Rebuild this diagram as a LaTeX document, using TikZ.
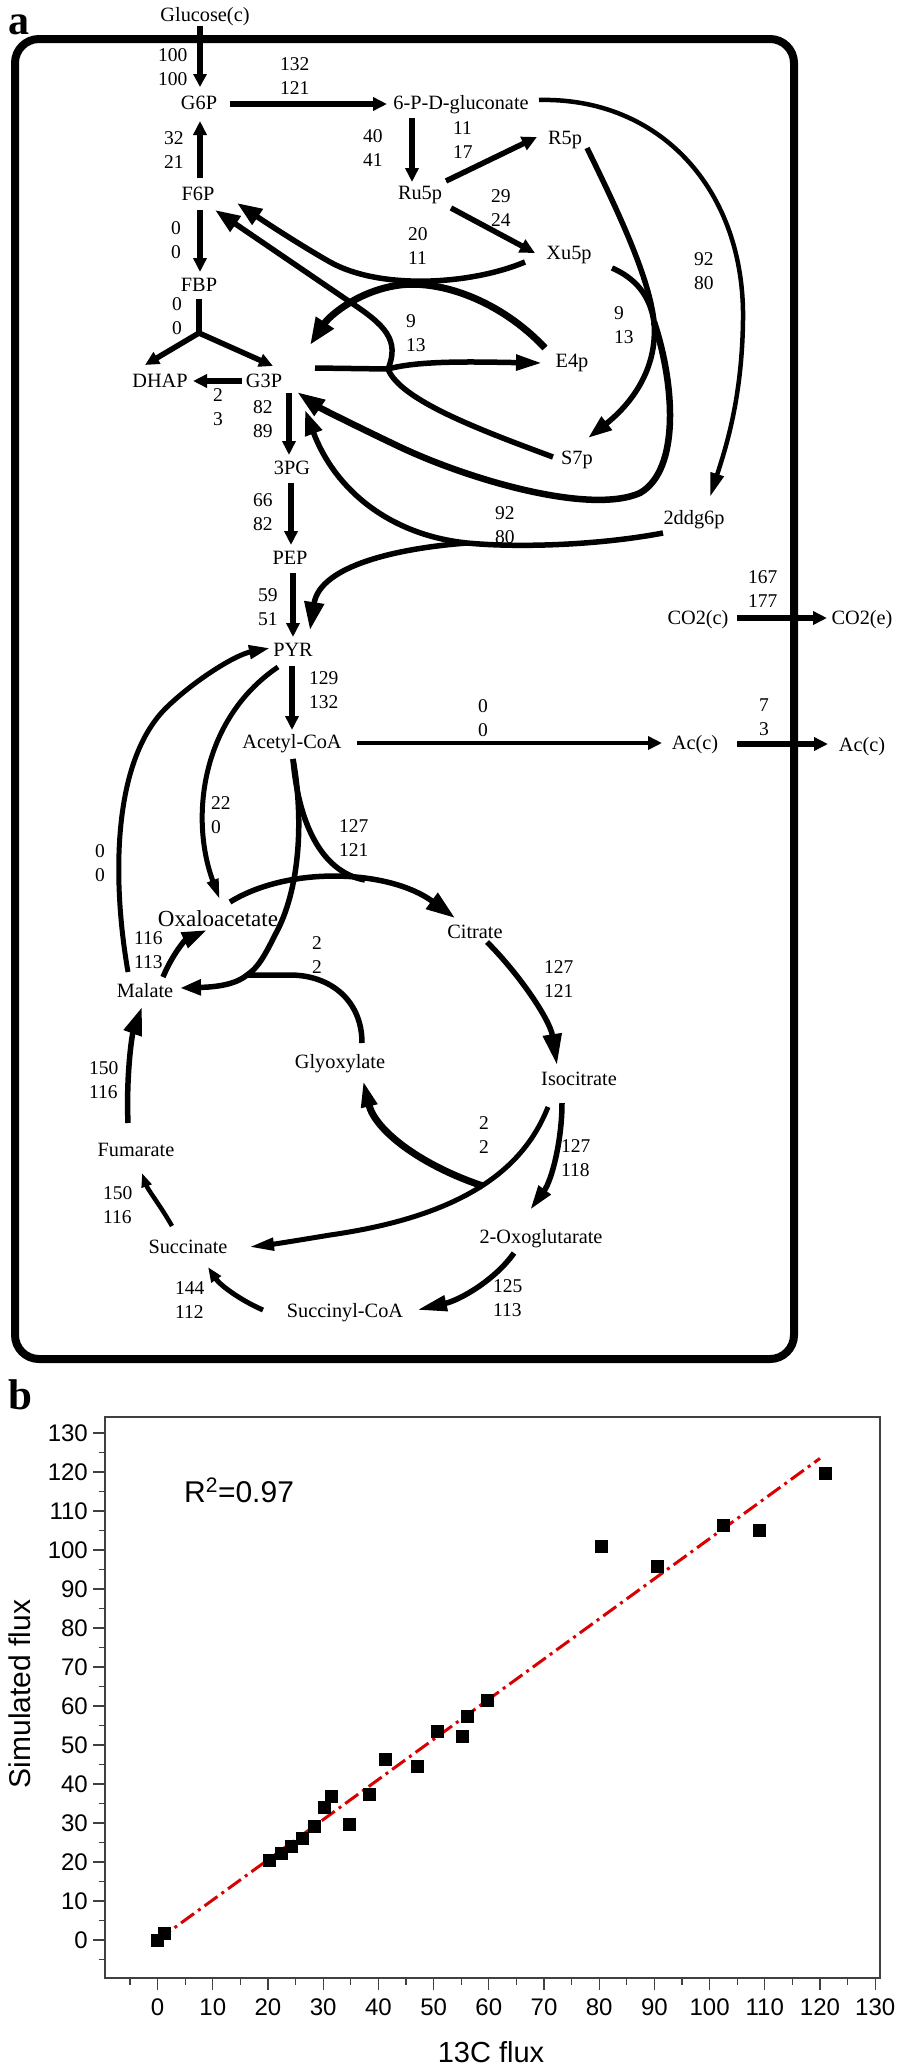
\documentclass[tikz,border=0pt]{standalone}
\usepackage{fontspec}
\setmainfont{Liberation Serif}
\newfontfamily\plotfont{Liberation Sans}
\usetikzlibrary{arrows.meta,calc}
\begin{document}
\begin{tikzpicture}[x=1pt,y=-1pt,
  met/.style={inner sep=0pt, font=\fontsize{20.3}{24}\selectfont, text height=13.5pt, text depth=0pt},
  num/.style={inner sep=0pt, anchor=west, align=left, font=\fontsize{19.5}{24}\selectfont},
  ln/.style={line width=5.5pt, draw=black},
  cv/.style={line width=5.5pt},
  thk/.style={line width=7pt},
  ah/.style 2 args={-{Triangle[length=#1pt,width=#2pt]}},
  axl/.style={inner sep=0pt, font=\plotfont\fontsize{24}{24}\selectfont},
  tick/.style={line width=1.3pt, draw=black!75},
]
\useasboundingbox (0,0) rectangle (898,2070);
\fill[white] (0,0) rectangle (898,2070);

% ---------------- panel a ----------------
\node[inner sep=0pt, anchor=base, font=\bfseries\fontsize{42}{42}\selectfont] (la) at (19,34) {a};
\node[draw, line width=8pt, rounded corners=24pt, minimum width=779pt, minimum height=1320pt, inner sep=0pt] (cell) at (404.5,699) {};

% metabolites
\node[met] (glc) at (205,15) {Glucose(c)};
\node[met] (g6p) at (199,103) {G6P};
\node[met] (pgl) at (461,103) {6-P-D-gluconate};
\node[met] (ru5p) at (420,193) {Ru5p};
\node[met] (r5p) at (565,138) {R5p};
\node[met] (xu5p) at (569,253) {Xu5p};
\node[met] (f6p) at (198,194) {F6P};
\node[met] (fbp) at (199,285) {FBP};
\node[met] (dhap) at (160,381) {DHAP};
\node[met] (g3p) at (264,381) {G3P};
\node[met] (e4p) at (572,361) {E4p};
\node[met] (s7p) at (577,458) {S7p};
\node[met] (ddg) at (694,518) {2ddg6p};
\node[met] (pg3) at (292,468) {3PG};
\node[met] (pep) at (290,558) {PEP};
\node[met] (pyr) at (293,650) {PYR};
\node[met] (acoa) at (292,742) {Acetyl-CoA};
\node[met] (acc) at (695,743) {Ac(c)};
\node[met] (ace) at (862,745) {Ac(c)};
\node[met] (co2c) at (698,618) {CO2(c)};
\node[met] (co2e) at (862,618) {CO2(e)};
\node[met, font=\fontsize{23}{24}\selectfont] (oaa) at (218,920) {Oxaloacetate};
\node[met] (mal) at (145,991) {Malate};
\node[met] (cit) at (475,932) {Citrate};
\node[met] (icit) at (579,1079) {Isocitrate};
\node[met] (glx) at (340,1062) {Glyoxylate};
\node[met] (fum) at (136,1150) {Fumarate};
\node[met] (succ) at (188,1247) {Succinate};
\node[met] (sca) at (345,1311) {Succinyl-CoA};
\node[met] (akg) at (541,1237) {2-Oxoglutarate};

% flux labels
\node[num] (n1) at (158,67) {100\\100};
\node[num] (n2) at (280,76) {132\\121};
\node[num] (n3) at (363,148) {40\\41};
\node[num] (n4) at (164,150) {32\\21};
\node[num] (n5) at (171,240) {0\\0};
\node[num] (n6) at (408,246) {20\\11};
\node[num] (n7) at (453,140) {11\\17};
\node[num] (n8) at (491,208) {29\\24};
\node[num] (n9) at (694,271) {92\\80};
\node[num] (n10) at (172,316) {0\\0};
\node[num] (n11) at (406,333) {9\\13};
\node[num] (n12) at (614,325) {9\\13};
\node[num] (n13) at (213,407) {2\\3};
\node[num] (n14) at (253,419) {82\\89};
\node[num] (n15) at (253,512) {66\\82};
\node[num] (n16) at (258,607) {59\\51};
\node[num] (n17) at (495,525) {92\\80};
\node[num] (n18) at (748,589) {167\\177};
\node[num] (n19) at (309,690) {129\\132};
\node[num] (n20) at (478,718) {0\\0};
\node[num] (n21) at (759,717) {7\\3};
\node[num] (n22) at (211,815) {22\\0};
\node[num] (n23) at (339,838) {127\\121};
\node[num] (n24) at (95,863) {0\\0};
\node[num] (n25) at (134,950) {116\\113};
\node[num] (n26) at (312,955) {2\\2};
\node[num] (n27) at (544,979) {127\\121};
\node[num] (n28) at (89,1080) {150\\116};
\node[num] (n29) at (479,1135) {2\\2};
\node[num] (n30) at (561,1158) {127\\118};
\node[num] (n31) at (103,1205) {150\\116};
\node[num] (n32) at (493,1298) {125\\113};
\node[num] (n33) at (175,1300) {144\\112};

% straight arrows
\draw[ln,ah={13}{13}] ($(glc)+(-5,11)$) -- ($(g6p)+(1,-16)$);
\draw[ln,ah={14}{13}] ($(g6p)+(31,1)$) -- ($(pgl)+(-74,1)$);
\draw[ln,ah={14}{13}] ($(pgl)+(-49,15)$) -- ($(ru5p)+(-8,-11)$);
\draw[ln,ah={14}{13}] ($(f6p)+(2,-16)$) -- ($(g6p)+(1,18)$);
\draw[ln,ah={14}{13}] ($(f6p)+(2,16)$) -- ($(fbp)+(1,-13)$);
\coordinate (jfbp) at ($(fbp)+(0,48)$);
\draw[ln] ($(fbp)+(0,14)$) -- (jfbp);
\draw[ln,line cap=round,ah={14}{13}] (jfbp) -- ($(dhap)+(-15,-16)$);
\draw[ln,line cap=round,ah={14}{13}] (jfbp) -- ($(g3p)+(9,-15)$);
\draw[ln,ah={14}{13}] ($(g3p)+(-22,0)$) -- ($(dhap)+(33,0)$);
\draw[ln,ah={14}{13}] ($(g3p)+(25,12)$) -- ($(pg3)+(-3,-13)$);
\draw[ln,ah={14}{13}] ($(pg3)+(-1,15)$) -- ($(pep)+(1,-13)$);
\draw[ln,ah={14}{13}] ($(pep)+(3,15)$) -- ($(pyr)+(0,-13)$);
\draw[ln,ah={14}{13}] ($(pyr)+(-1,16)$) -- ($(acoa)+(0,-12)$);
\draw[ln,line width=4.5pt,ah={14}{13}] ($(acoa)+(65,1)$) -- ($(acc)+(-33,0)$);
\draw[ln,ah={14}{13}] ($(acc)+(42,1)$) -- ($(ace)+(-34,-1)$);
\draw[ln,ah={14}{13}] ($(co2c)+(39,0)$) -- ($(co2e)+(-35,0)$);
\draw[ln,ah={15}{14}] ($(ru5p)+(26,-12)$) -- ($(r5p)+(-28,-1)$);
\draw[ln,ah={15}{14}] ($(ru5p)+(31,15)$) -- ($(xu5p)+(-34,0)$);

% 6-P-D-gluconate -> 2ddg6p
\draw[line width=4.5pt, ah={24}{13}] ($(pgl)+(78,-3)$) .. controls (660,97) and (745,190) .. (743,320) .. controls (742,400) and (725,450) .. ($(ddg)+(16,-21)$);

% transketolase 1 : R5p + Xu5p -> S7p + G3P
\coordinate (jtk) at (654,322);
\draw[cv] ($(r5p)+(22,10)$) .. controls (620,215) and (650,280) .. (jtk);
\draw[cv] ($(xu5p)+(43,15)$) .. controls (635,278) and (650,295) .. (jtk);
\draw[cv, ah={24}{16}] (jtk) .. controls (658,370) and (630,405) .. ($(s7p)+(11,-20)$);
\draw[line width=6.5pt, ah={28}{18}] (jtk) .. controls (675,385) and (680,470) .. (640,493) .. controls (590,515) and (470,480) .. (400,447) .. controls (360,428) and (320,408) .. ($(g3p)+(33,11)$);

% transketolase 2 : Xu5p + E4p -> F6P + G3P
\draw[cv, ah={25}{18}] ($(xu5p)+(-44,9)$) .. controls (470,285) and (380,290) .. (330,262) .. controls (300,245) and (265,222) .. ($(f6p)+(39,9)$);
\draw[thk, ah={27}{20}] ($(e4p)+(-27,-13)$) .. controls (500,300) and (440,280) .. (400,285) .. controls (360,290) and (330,315) .. ($(g3p)+(46,-36)$);

% transaldolase : S7p + G3P -> E4p + F6P
\coordinate (jta) at (388,369);
\draw[cv] ($(g3p)+(51,-13)$) -- (jta);
\draw[cv, ah={26}{15}] (jta) .. controls (420,360) and (480,362) .. ($(e4p)+(-30,2)$);
\draw[cv, ah={25}{18}] (jta) .. controls (400,340) and (385,325) .. (350,302) -- ($(f6p)+(17,16)$);
\draw[cv] (jta) .. controls (400,400) and (480,430) .. ($(s7p)+(-24,-1)$);

% ED pathway : 2ddg6p -> G3P + PYR
\coordinate (jed) at (467,543);
\draw[cv] ($(ddg)+(-31,15)$) .. controls (600,545) and (520,548) .. (jed);
\draw[cv, ah={25}{17}] (jed) .. controls (390,535) and (335,490) .. ($(g3p)+(41,29)$);
\draw[cv, ah={28}{19}] (jed) .. controls (400,548) and (320,565) .. ($(pyr)+(17,-20)$);

% TCA and glyoxylate shunt
\draw[line width=5pt, ah={21}{11}] ($(pyr)+(-15,17)$) .. controls (200,720) and (190,820) .. ($(oaa)+(2,-20)$);
\draw[line width=5pt, ah={21}{13}] ($(mal)+(-17,-19)$) .. controls (112,880) and (112,760) .. (167,707) .. controls (195,680) and (235,655) .. ($(pyr)+(-23,-2)$);
\coordinate (jcs) at (365,880);
\draw[cv] ($(acoa)+(1,17)$) .. controls (298,820) and (320,872) .. (jcs);
\draw[cv, ah={29}{19}] ($(oaa)+(12,-18)$) .. controls (290,865) and (390,870) .. ($(cit)+(-20,-14)$);
\coordinate (jms) at (247,975);
\draw[cv, ah={21}{15}] ($(acoa)+(1,17)$) .. controls (304,820) and (300,890) .. (275,935) .. controls (265,955) and (258,968) .. (jms) .. controls (235,985) and (215,987) .. ($(mal)+(35,-3)$);
\draw[cv] ($(glx)+(22,-19)$) .. controls (362,1000) and (330,975) .. (290,975) .. controls (270,975) and (255,975) .. (jms);
\draw[cv, ah={31}{18}] ($(cit)+(12,10)$) .. controls (520,975) and (550,1020) .. ($(icit)+(-22,-14)$);
\draw[cv, ah={25}{14}] ($(icit)+(-17,24)$) .. controls (562,1140) and (552,1180) .. ($(akg)+(-11,-27)$);
\draw[line width=5pt, ah={25}{12}] ($(icit)+(-31,28)$) .. controls (525,1165) and (470,1215) .. (330,1235) .. controls (300,1240) and (275,1244) .. ($(succ)+(61,0)$);
\coordinate (jicl) at (483,1186);
\draw[thk, ah={27}{15}] (jicl) .. controls (420,1165) and (375,1130) .. ($(glx)+(23,18)$);
\draw[cv, ah={30}{15}] ($(akg)+(-27,16)$) .. controls (495,1280) and (460,1300) .. ($(sca)+(72,-1)$);
\draw[line width=5pt, ah={15}{11}] ($(sca)+(-82,-1)$) .. controls (240,1300) and (220,1285) .. ($(succ)+(20,20)$);
\draw[line width=4.5pt, ah={14}{10}] ($(succ)+(-16,-21)$) .. controls (160,1205) and (148,1190) .. ($(fum)+(6,23)$);
\draw[cv, ah={28}{18}] ($(fum)+(-8,-27)$) .. controls (126,1075) and (132,1035) .. ($(mal)+(-3,16)$);
\draw[cv, ah={25}{16}] ($(mal)+(18,-14)$) .. controls (172,955) and (185,940) .. ($(oaa)+(-11,10)$);

% ---------------- panel b ----------------
\node[inner sep=0pt, font=\bfseries\fontsize{43}{43}\selectfont] (lb) at (20,1395) {b};
\node[draw=black!75, line width=1.5pt, minimum width=775pt, minimum height=561pt, inner sep=0pt] (frame) at (492.5,1697.5) {};
\foreach \v in {0,10,...,130} {
  \draw[tick] (93,{1940-3.9*\v}) -- (105,{1940-3.9*\v});
  \node[axl, anchor=east] (yl\v) at (88,{1940-3.9*\v}) {\v};
  \draw[tick] ({157.6+5.52*\v},1978) -- ({157.6+5.52*\v},1990);
  \node[axl] (xl\v) at ({157.6+5.52*\v},2007) {\v};
}
\foreach \v in {-5,5,...,125} {
  \draw[tick] (98.5,{1940-3.9*\v}) -- (105,{1940-3.9*\v});
  \draw[tick] ({157.6+5.52*\v},1978) -- ({157.6+5.52*\v},1985);
}
\node[inner sep=0pt, anchor=base west, font=\plotfont\fontsize{30}{30}\selectfont] (r2) at (184,1502) {R\textsuperscript{2}=0.97};
\node[inner sep=0pt, rotate=90, font=\plotfont\fontsize{30}{30}\selectfont] (ytitle) at (20,1694) {Simulated flux};
\node[inner sep=0pt, font=\plotfont\fontsize{29}{29}\selectfont] (xtitle) at (491,2052) {13C flux};

\coordinate (fit0) at (157.6,1940);
\coordinate (fit1) at ({157.6+5.52*120},{1940-3.9*123.5});
\draw[red!85!black, line width=3pt, dash pattern=on 16pt off 5pt on 3pt off 5pt] (fit0) -- (fit1);

\foreach \a/\b [count=\i] in {121/119.7, 80.4/100.8, 90.6/95.9, 102.6/106.2, 109.1/105.1, 59.7/61.5, 56.2/57.3, 55.2/52.3, 50.7/53.4, 41.2/46.2, 47.0/44.4, 38.4/37.4, 31.5/36.7, 30.2/34.1, 34.7/29.7, 28.4/29, 26.2/26.1, 24.2/23.9, 22.4/22.3, 20.3/20.3, 1.2/1.7, 0/0}
  \node[fill=black, minimum size=13pt, inner sep=0pt] (pt\i) at ({157.6+5.52*\a},{1940-3.9*\b}) {};
\end{tikzpicture}
\end{document}
